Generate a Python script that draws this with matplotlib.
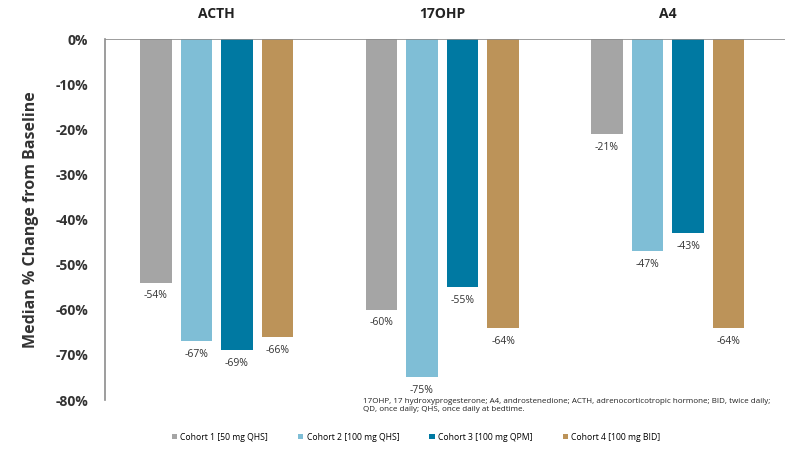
import matplotlib
matplotlib.use("Agg")
import matplotlib.pyplot as plt
import numpy as np

plt.rcParams['font.family'] = ['Open Sans', 'DejaVu Sans']

analytes = ["ACTH", "17OHP", "A4"]
cohorts = ["Cohort 1 [50 mg QHS]", "Cohort 2 [100 mg QHS]", "Cohort 3 [100 mg QPM]", "Cohort 4 [100 mg BID]"]
values = {
    "Cohort 1 [50 mg QHS]": [-54, -60, -21],
    "Cohort 2 [100 mg QHS]": [-67, -75, -47],
    "Cohort 3 [100 mg QPM]": [-69, -55, -43],
    "Cohort 4 [100 mg BID]": [-66, -64, -64],
}
colors = ["#A5A5A5", "#7FBED6", "#0079A2", "#BC9359"]
yticks = [0, -10, -20, -30, -40, -50, -60, -70, -80]
footnote = ("17OHP, 17 hydroxyprogesterone; A4, androstenedione; ACTH, adrenocorticotropic hormone; BID, twice daily;\n"
            "QD, once daily; QHS, once daily at bedtime.")

fig = plt.figure(figsize=(7.85, 4.51), dpi=100)
ax = fig.add_axes([0.1338, 0.113, 0.8662, 0.8004])

x = np.arange(len(analytes))
width = 0.14
step = 0.18
for i, (c, col) in enumerate(zip(cohorts, colors)):
    xs = x + (i - 1.5) * step
    ax.bar(xs, values[c], width=width, color=col, label=c)
    for xi, v in zip(xs, values[c]):
        ax.annotate(f"{v}%", (xi, v), xytext=(0, -9.5), textcoords="offset points",
                    ha="center", va="center", fontsize=7.5, color="#333333")

ax.set_ylim(-80, 0)
ax.set_xlim(-0.495, 2.52)
ax.set_yticks(yticks)
ax.set_yticklabels([f"{t}%" for t in yticks], fontsize=10, fontweight="bold", color="#333333")
ax.set_xticks([])
for s in ["top", "right", "bottom"]:
    ax.spines[s].set_visible(False)
ax.spines["left"].set_color("#8C8C8C")
ax.spines["left"].set_linewidth(1.2)
ax.tick_params(axis="y", length=0, pad=12)
ax.axhline(0, color="#8C8C8C", lw=1.2)

for xi, name in zip(x, analytes):
    ax.text(xi, 1.07, name, transform=ax.get_xaxis_transform(), ha="center", va="center",
            fontsize=10, fontweight="bold", color="#222222")

ax.set_ylabel("Median % Change from Baseline", fontsize=11.5, fontweight="bold", color="#333333", labelpad=12)

fig.text(0.462, 0.1175, footnote, fontsize=5.8, color="#222222", va="top", ha="left", linespacing=1.2)

fig.legend(loc="center", bbox_to_anchor=(0.53, 0.031), ncol=4, frameon=False, fontsize=6.2,
           handlelength=0.6, handleheight=0.6, columnspacing=3.5, handletextpad=0.4)

fig.savefig("out.png", dpi=100)
